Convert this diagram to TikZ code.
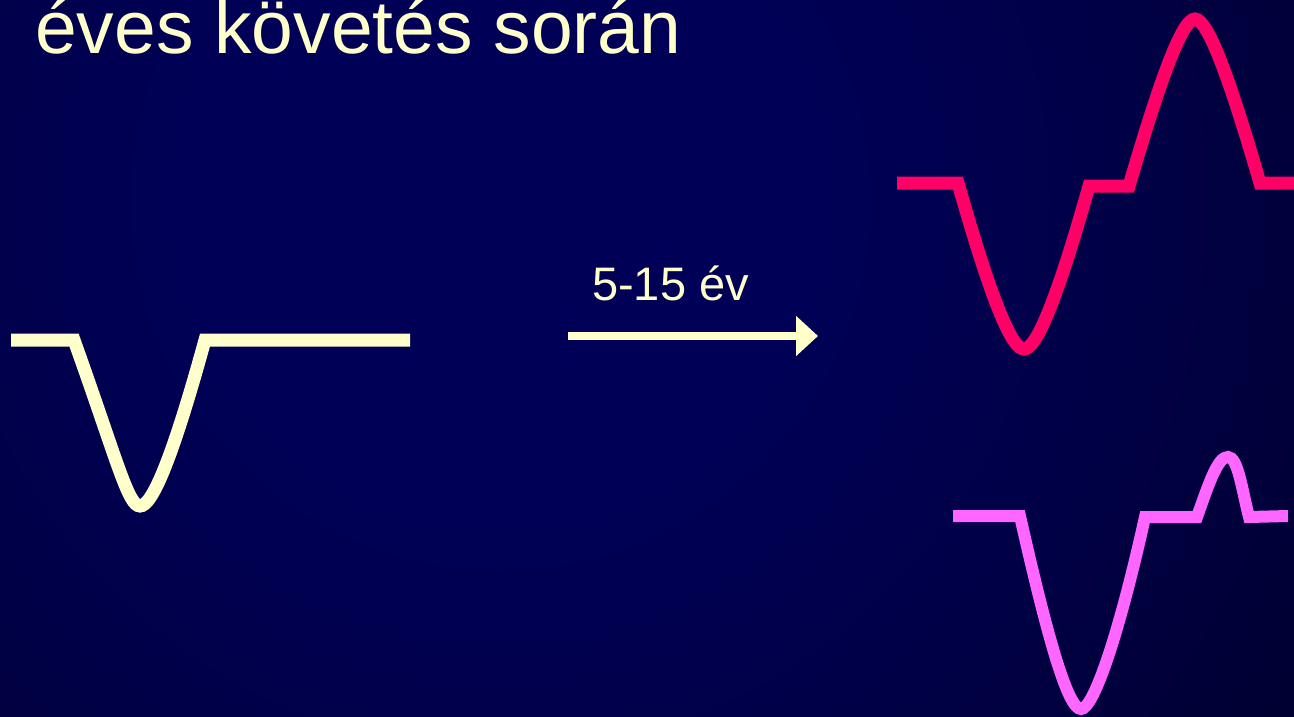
\documentclass[tikz,border=0pt]{standalone}
\usepackage{fontspec}
\setmainfont{Liberation Sans}
\usetikzlibrary{arrows.meta,positioning}

\definecolor{cream}{RGB}{255,255,204}
\definecolor{ecgred}{RGB}{255,0,102}
\definecolor{ecgpink}{RGB}{255,102,255}
\definecolor{bgmid}{RGB}{0,0,86}
\definecolor{bgfar}{RGB}{0,0,70}
\definecolor{bgedge}{RGB}{0,0,46}
\pgfdeclareradialshading{slidebg}{\pgfpoint{0bp}{0bp}}{color(0bp)=(bgmid); color(8bp)=(bgmid); color(16bp)=(bgfar); color(25bp)=(bgedge); color(50bp)=(bgedge)}

\begin{document}
\begin{tikzpicture}[x=1pt, y=-1pt,
    wave/.style={line width=13pt, line join=miter},
    slidetext/.style={text=cream, inner sep=0pt, anchor=base west}]
        \useasboundingbox (0,0) rectangle (1294,716);
        % background
        \begin{scope}
          \clip (0,0) rectangle (1294,716);
          \shade[shading=slidebg] (-500,-800) rectangle (1500,1200);
        \end{scope}
        \node[slidetext, font=\fontsize{75}{80}\selectfont] (title) at (35,53) {éves követés során};
        \node[slidetext, font=\fontsize{47}{52}\selectfont] (span) at (592,300) {5-15 év};
        \coordinate (from) at (568,336);
        \coordinate (to) at (818,336);
        \draw[cream, line width=8pt, -{Triangle[length=22pt, width=39pt]}] (from) -- (to);
        % before
        \draw[wave, cream] (11,340) -- (74,340) .. controls (117,460) and (128,506) .. (140,506)
          .. controls (152,506) and (172,460) .. (205,340) -- (410,340);
        % after, upper
        \draw[wave, ecgred] (897,183) -- (958,183) .. controls (992,303) and (1012,349) .. (1024,349)
          .. controls (1036,349) and (1056,303) .. (1089,186) -- (1129,186)
          .. controls (1160,80) and (1182,19) .. (1195,19)
          .. controls (1208,19) and (1230,80) .. (1260,183) -- (1294,183);
        % after, lower
        \draw[wave, ecgpink, line width=12pt] (953,516) -- (1020,516) .. controls (1048,640) and (1068,709) .. (1081,709)
          .. controls (1094,709) and (1120,630) .. (1145,517) -- (1197,517)
          .. controls (1210,480) and (1218,457) .. (1228,457)
          .. controls (1238,457) and (1242,490) .. (1249,517) -- (1288,516);
      \end{tikzpicture}
\end{document}
